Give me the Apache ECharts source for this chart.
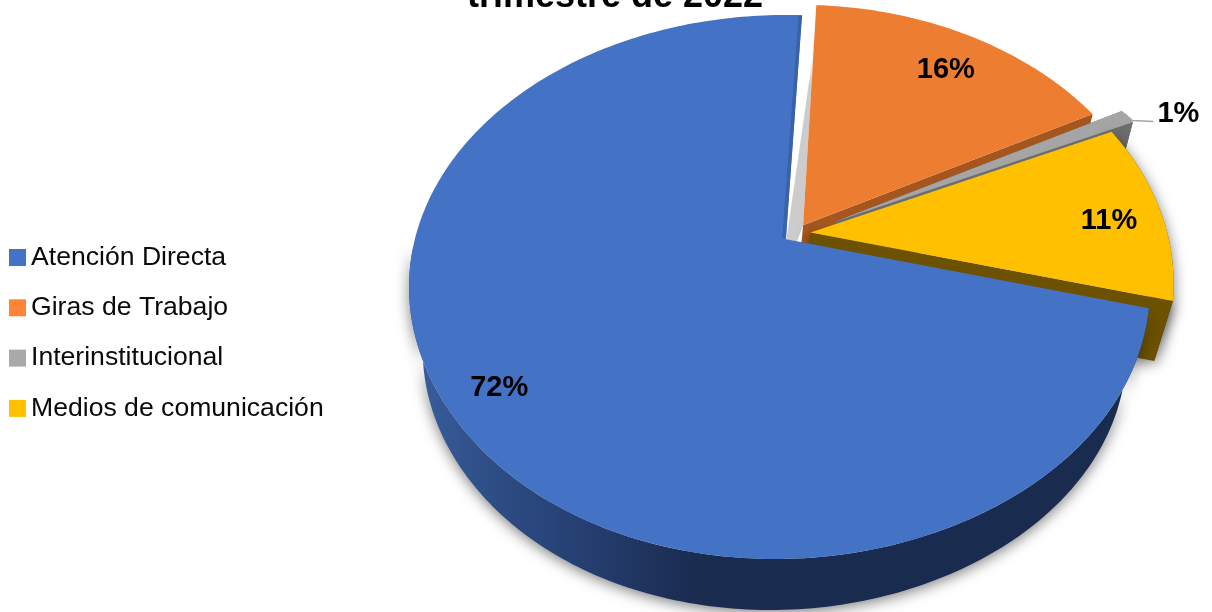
<!DOCTYPE html>
<html><head><meta charset="utf-8">
<style>html,body{margin:0;padding:0;background:#fff;overflow:hidden}#c{width:1212px;height:612px}</style>
<script src="https://cdn.jsdelivr.net/npm/echarts@6/dist/echarts.min.js"></script>
</head><body><div id="c"></div>
<script>
const titleText = 'trimestre de 2022';
const categories = ['Atención Directa', 'Giras de Trabajo', 'Interinstitucional', 'Medios de comunicación'];
const shares = [71.8, 16.49, 0.9, 10.81];
const explode = [0, 0.072, 0.155, 0.073];
const explodeBearing = [0, 42, 64, 70];
const labelRadii = [0.87, 0.81, 1, 0.845];
const labelTurn = [0, 1.5, 0, 2];
const topColors = ['#4472c4', '#ed7d31', '#a5a5a5', '#ffc000'];
const legendColors = ['#4472c4', '#ff8438', '#a9a9a9', '#ffc000'];

const view = {cx: 786, cy: 287, rxL: 377, rxR: 364, ry: 272, tilt: 0.176, startDeg: 104.5, wallEndDeg: 268};
const k = Math.sqrt(1 - view.tilt * view.tilt);
const rad = d => d * Math.PI / 180;
const total = shares.reduce((a, b) => a + b, 0);
const spans = [];
let cursor = view.startDeg;
shares.forEach(v => { const e = cursor + v / total * 360; spans.push([cursor, e]); cursor = e; });

function project(X, Y) {
  const D = 1 - view.tilt * Y, nx = X * k / D, ny = (Y - view.tilt) / D;
  const lean = ny > 0 ? 10 * ny * ny * ny : 0;
  return [view.cx - lean + nx * (nx < 0 ? view.rxL : view.rxR), view.cy + ny * view.ry];
}
function pointAt(i, deg, r) {
  const b = rad(explodeBearing[i]), d = explode[i], t = rad(deg);
  return project(d * Math.sin(b) + r * Math.sin(t), -d * Math.cos(b) - r * Math.cos(t));
}
const down = p => [781 + 0.965 * (p[0] - 786), 0.97 * p[1] + 69];
const downOuter = p => [778 + 0.95 * (p[0] - 783), 0.956 * p[1] + 75.6];
function arc(i, s, e) {
  const pts = [], n = Math.max(2, Math.ceil(e - s));
  for (let j = 0; j <= n; j++) pts.push(pointAt(i, s + (e - s) * j / n, 1));
  return pts;
}
const rim = i => arc(i, spans[i][0], spans[i][1]);
const face = (pts, fill, extra) => ({type: 'polygon', shape: {points: pts}, style: Object.assign({fill: fill, stroke: null}, extra || {})});

const labelStyle = {fill: '#000', font: 'bold 29px "Liberation Sans", Arial, sans-serif', textAlign: 'center', textVerticalAlign: 'middle'};
function label(i) {
  const mid = (spans[i][0] + spans[i][1]) / 2;
  const text = Math.round(shares[i] / total * 100) + '%';
  if (i === 2) {
    const p = pointAt(i, mid, 1);
    return [
      {type: 'polyline', shape: {points: [[p[0] - 3, p[1] - 3], [p[0] + 5, p[1] + 4], [p[0] + 26, p[1] + 5]]}, style: {stroke: '#a5a5a5', lineWidth: 1.5, fill: null}},
      {type: 'text', style: Object.assign({}, labelStyle, {text: text, x: p[0] + 51, y: p[1] - 2})}
    ];
  }
  const c = pointAt(i, mid + labelTurn[i], labelRadii[i]);
  return [{type: 'text', style: Object.assign({}, labelStyle, {text: text, x: c[0], y: c[1]})}];
}

const softShadow = {shadowColor: 'rgba(0,0,0,0.5)', shadowBlur: 14, shadowOffsetY: 3};
const fade = () => new echarts.graphic.LinearGradient(0, 0, 0, 1, [
  {offset: 0, color: '#ffffff'}, {offset: 0.2, color: '#f3f3f3'}, {offset: 0.28, color: '#cccccc'}, {offset: 1, color: '#cccccc'}
]);
const wallStyles = {
  1: {startCut: fade, startApexDx: -18, endCut: '#a5561f'},
  2: {startCut: '#6d6d6d', endCut: '#6d6d6d', rim: '#6d6d6d'},
  3: {endCut: '#6b5100', rim: '#6b5100'}
};

function renderSlice(i) {
  const r = rim(i), apex = pointAt(i, 0, 0), kids = [];
  const first = r[0], last = r[r.length - 1];
  if (i === 0) {
    const front = arc(0, spans[0][0], view.wallEndDeg);
    const wall = front.concat(front.map(downOuter).reverse());
    kids.push(face(wall, new echarts.graphic.LinearGradient(0, 0, 1, 0, [
      {offset: 0, color: '#3a5f9f'}, {offset: 0.1, color: '#2f4f88'}, {offset: 0.26, color: '#233c6c'},
      {offset: 0.36, color: '#1c2e55'}, {offset: 0.4, color: '#1a2b50'}, {offset: 1, color: '#1a2b50'}
    ]), softShadow));
    kids.push(face([apex].concat(r), topColors[0]));
    kids.push({type: 'line', shape: {x1: apex[0] - 2, y1: apex[1] - 1, x2: last[0] - 1.5, y2: last[1]}, style: {stroke: '#3a62a8', lineWidth: 3.5}});
  } else {
    const st = wallStyles[i];
    if (st.startCut) {
      const fill = typeof st.startCut === 'function' ? st.startCut() : st.startCut;
      const base = down(apex);
      kids.push(face([apex, first, down(first), [base[0] + (st.startApexDx || 0), base[1]]], fill));
    }
    if (st.rim) kids.push(face(r.concat(r.map(down).reverse()), st.rim, i === 3 ? softShadow : null));
    if (st.endCut) kids.push(face([apex, last, down(last), down(apex)], st.endCut, i === 3 ? softShadow : null));
    kids.push(face([apex].concat(r), topColors[i]));
  }
  return {type: 'group', children: kids.concat(label(i))};
}

// Painted back to front; the legend keeps the category order.
const paintOrder = [1, 2, 3, 0];
const series = paintOrder.map(i => ({
  type: 'custom',
  name: categories[i],
  coordinateSystem: 'none',
  silent: true,
  animation: false,
  clip: false,
  itemStyle: {color: legendColors[i]},
  data: [[shares[i]]],
  renderItem: () => renderSlice(i)
}));

const chart = echarts.init(document.getElementById('c'), null, {renderer: 'canvas'});
chart.setOption({
  animation: false,
  backgroundColor: '#fff',
  title: {text: titleText, left: 610, textAlign: 'center', top: -26, textStyle: {fontFamily: '"Liberation Sans", Arial, sans-serif', fontWeight: 'bold', fontSize: 36, color: '#000'}},
  legend: {
    data: categories, orient: 'vertical', left: 4, top: 239, itemWidth: 17, itemHeight: 17, itemGap: 23.3, icon: 'rect',
    textStyle: {fontFamily: '"Liberation Sans", Arial, sans-serif', fontSize: 26.6, color: '#0a0a0a'}, selectedMode: false
  },
  series: series
});
</script></body></html>
